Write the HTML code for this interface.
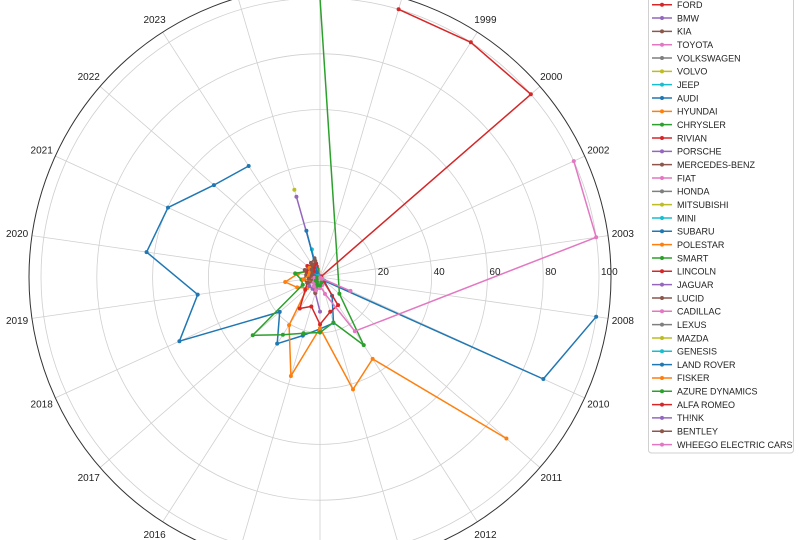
<!DOCTYPE html>
<html><head><meta charset="utf-8"><style>
html,body{margin:0;padding:0;background:#fff;width:799px;height:540px;overflow:hidden}
svg{display:block;font-family:"Liberation Sans",sans-serif}
</style></head><body>
<svg id="chart" width="799" height="540" viewBox="0 0 799 540" xmlns="http://www.w3.org/2000/svg">
<defs><clipPath id="frame"><rect x="0" y="0" width="799" height="540"/></clipPath></defs>
<g clip-path="url(#frame)">
<g id="grid"></g>
<g id="series"></g>
<g id="labels"></g>
<g id="legend"></g>
</g>
</svg>
<script>
const years = ["1997","1998","1999","2000","2002","2003","2008","2010","2011","2012","2013","2014","2015","2016","2017","2018","2019","2020","2021","2022","2023","2024"];
const radialTicks = [20,40,60,80,100];
const makes = ["TESLA","NISSAN","CHEVROLET","FORD","BMW","KIA","TOYOTA","VOLKSWAGEN","VOLVO","JEEP","AUDI","HYUNDAI","CHRYSLER","RIVIAN","PORSCHE","MERCEDES-BENZ","FIAT","HONDA","MITSUBISHI","MINI","SUBARU","POLESTAR","SMART","LINCOLN","JAGUAR","LUCID","CADILLAC","LEXUS","MAZDA","GENESIS","LAND ROVER","FISKER","AZURE DYNAMICS","ALFA ROMEO","TH!NK","BENTLEY","WHEEGO ELECTRIC CARS"];
const teslaYears = ["2008","2010","2011","2012","2013","2014","2015","2016","2017","2018","2019","2020","2021","2022","2023"];
const teslaValues = [100,88,2,8,17.2,18.6,21.9,28.4,19.1,55.4,44.3,62.8,59.9,50.3,47.3];
const nissanYears = ["2011","2012","2013","2014","2015","2016","2017","2018","2019","2020","2021","2022","2023","2024"];
const nissanValues = [88.4,34.9,42,18.3,37,20.5,6,9,12.6,8,5,4,3,2];
const chevroletYears = ["1997","2011","2012","2013","2014","2015","2016","2017","2018","2019","2020","2021","2022","2023","2024"];
const chevroletValues = [100,9.2,29,17,19.9,21,24.6,31.9,6.8,6.7,9,5,4,3,3];
const fordYears = ["1998","1999","2000","2002","2011","2012","2013","2014","2015","2016","2017","2018","2019","2020","2021","2022","2023","2024"];
const fordValues = [100,100,100,0.5,1,12,13,17,11,13.4,7,5,4,4,5,6,5,4];
const bmwYears = ["2014","2015","2016","2017","2018","2019","2020","2021","2022","2023","2024"];
const bmwValues = [12.4,6,5,5,4,3,3,3,3,1,30];
const kiaYears = ["2014","2015","2016","2017","2018","2019","2020","2021","2022","2023","2024"];
const kiaValues = [2,6,4,3,5,6,5,6,5,6,7];
const toyotaYears = ["2002","2003","2012","2013","2014","2015","2016","2017","2018","2019","2020","2021","2022","2023","2024"];
const toyotaValues = [100,100,23.1,6.3,3,2,2,3,2,3,2,3,4,4,5];
const vwYears = ["2015","2016","2017","2018","2019","2020","2021","2022","2023","2024"];
const vwValues = [4,3,2,2,2,3,4,4,3,5];
const jeepYears = ["2021","2022","2023","2024"];
const jeepValues = [1,2,3,10.3];
const audiYears = ["2019","2020","2021","2022","2023","2024"];
const audiValues = [2,2,3,3,2,17.3];
const hyundaiYears = ["2018","2019","2020","2021","2022","2023","2024"];
const hyundaiValues = [3,6,4,4,5,4,5];
const rivianYears = ["2022","2023","2024"];
const rivianValues = [3,4,5];
const mercedesYears = ["2017","2018","2019","2020","2021","2022","2023","2024"];
const mercedesValues = [2,3,4,3,3,4,5,6];
const fiatYears = ["2013","2014","2015","2016","2017","2018","2019"];
const fiatValues = [3,4,5,4,3,2,2];
const smartYears = ["2013","2014","2015","2016","2017","2018","2019"];
const smartValues = [2,3,3,2,2,1,1];
const mazdaYears = ["2024"];
const mazdaValues = [32.6];
const wheegoYears = ["2010","2011","2012","2013"];
const wheegoValues = [12,1,0.5,0.3];

const palette = ["#1f77b4","#ff7f0e","#2ca02c","#d62728","#9467bd","#8c564b","#e377c2","#7f7f7f","#bcbd22","#17becf"];
const seriesList = [
 ["TESLA",teslaYears,teslaValues],["NISSAN",nissanYears,nissanValues],["CHEVROLET",chevroletYears,chevroletValues],
 ["FORD",fordYears,fordValues],["BMW",bmwYears,bmwValues],["KIA",kiaYears,kiaValues],["TOYOTA",toyotaYears,toyotaValues],
 ["VOLKSWAGEN",vwYears,vwValues],["JEEP",jeepYears,jeepValues],["AUDI",audiYears,audiValues],["HYUNDAI",hyundaiYears,hyundaiValues],
 ["RIVIAN",rivianYears,rivianValues],["MERCEDES-BENZ",mercedesYears,mercedesValues],["FIAT",fiatYears,fiatValues],
 ["SMART",smartYears,smartValues],["MAZDA",mazdaYears,mazdaValues],["WHEEGO ELECTRIC CARS",wheegoYears,wheegoValues]
];

const NS="http://www.w3.org/2000/svg";
const cx=320, cy=277, scale=2.79, spineR=291;
function ang(year){return years.indexOf(year)*2*Math.PI/years.length;}
function px(year,v){return cx+Math.sin(ang(year))*v*scale;}
function py(year,v){return cy-Math.cos(ang(year))*v*scale;}
function mk(tag,attrs,parent){const e=document.createElementNS(NS,tag);for(const k in attrs)e.setAttribute(k,attrs[k]);parent.appendChild(e);return e;}
function colorOf(name){return palette[makes.indexOf(name)%10];}

const grid=document.getElementById('grid');
radialTicks.forEach(t=>{
  const c=mk('circle',{cx:cx,cy:cy,r:t*scale,fill:'none',stroke:'#cfcfcf','stroke-width':0.8},grid);
  
  
});
years.forEach(y=>{
  const l=mk('line',{x1:cx,y1:cy,x2:cx+Math.sin(ang(y))*spineR,y2:cy-Math.cos(ang(y))*spineR,stroke:'#cfcfcf','stroke-width':0.8},grid);
  
  
});
const spine=mk('circle',{cx:cx,cy:cy,r:spineR,fill:'none',stroke:'#333','stroke-width':1},grid);



const sg=document.getElementById('series');
seriesList.forEach(([name,ys,vs])=>{
  const col=colorOf(name);
  const g=mk('g',{},sg);
  
  
  const pts=ys.map((y,i)=>px(y,vs[i]).toFixed(1)+','+py(y,vs[i]).toFixed(1)).join(' ');
  if(ys.length>1){
    const pl=mk('polyline',{points:pts,fill:'none',stroke:col,'stroke-width':1.5,'stroke-linejoin':'round'},g);
    
    
  }
  ys.forEach((y,i)=>{
    const d=mk('circle',{cx:px(y,vs[i]),cy:py(y,vs[i]),r:2,fill:col},g);
    
    
  });
});

const lg=document.getElementById('labels');
years.forEach(y=>{
  const t=mk('text',{x:cx+Math.sin(ang(y))*306,y:cy-Math.cos(ang(y))*306+3.5,'text-anchor':'middle','font-size':'10px',fill:'#222'},lg);
  t.textContent=y;
  
  
});
radialTicks.forEach(tk=>{
  const t=mk('text',{x:cx+tk*scale+2,y:275,'font-size':'10px',fill:'#222'},lg);
  t.textContent=tk;
  
  
});

const leg=document.getElementById('legend');
const box=mk('rect',{x:648.5,y:-45,width:145,height:498,rx:3,fill:'#fff',stroke:'#d0d0d0','stroke-width':1},leg);


makes.forEach((m,i)=>{
  const y=4.7+13.33*(i-3);
  const col=colorOf(m);
  const g=mk('g',{},leg);
  
  
  mk('line',{x1:652,y1:y,x2:672,y2:y,stroke:col,'stroke-width':1.5},g);
  mk('circle',{cx:662,cy:y,r:2,fill:col},g);
  const t=mk('text',{x:677,y:y+3.3,'font-size':'9px',fill:'#222'},g);
  t.textContent=m;
});
</script>
</body></html>
